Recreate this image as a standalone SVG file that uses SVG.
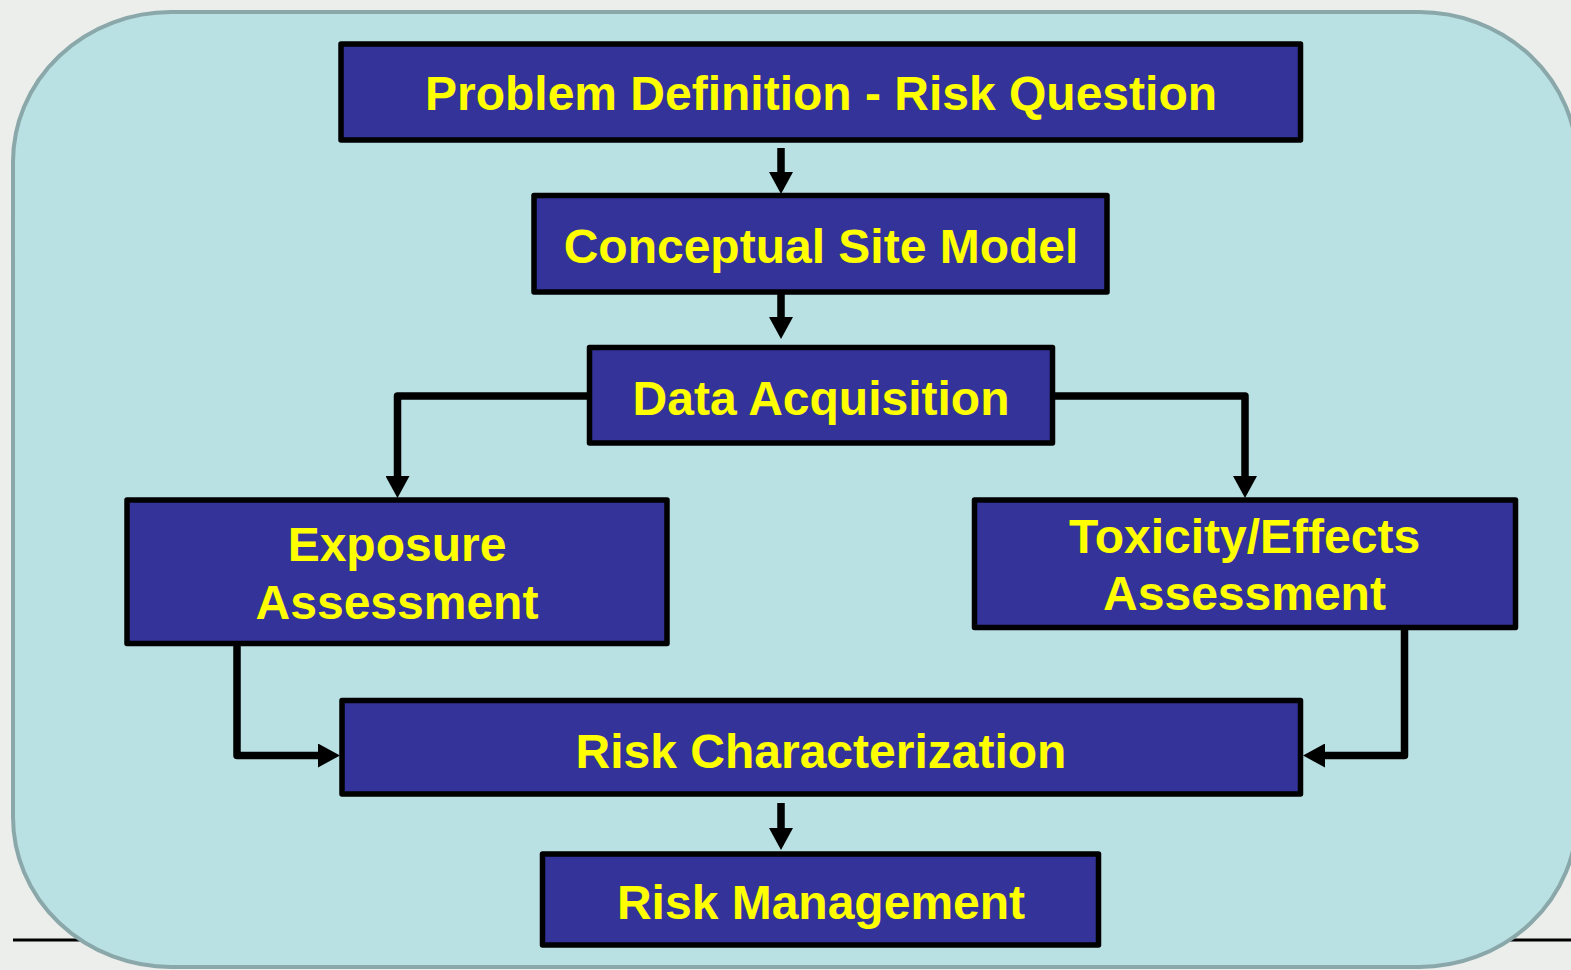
<svg xmlns="http://www.w3.org/2000/svg" width="1571" height="970" viewBox="0 0 1571 970">
  <defs>
    <!-- arrowhead: base sits at the path end, tip points forward -->
    <marker id="head" markerWidth="22" markerHeight="24" viewBox="0 0 22 24" refX="0" refY="12" orient="auto" markerUnits="userSpaceOnUse">
      <path d="M0,0 L22,12 L0,24 Z" fill="#000"/>
    </marker>
  </defs>
  <style>
    .box { fill: #333399; stroke: #000; stroke-width: 5.5; stroke-linejoin: round; }
    .lbl { fill: #ffff00; font-family: "Liberation Sans", Arial, sans-serif; font-weight: bold; font-size: 48px; text-anchor: middle; }
    .conn { fill: none; stroke: #000; stroke-width: 7.5; stroke-linejoin: round; marker-end: url(#head); }
  </style>

  <!-- page background and rule -->
  <rect x="0" y="0" width="1571" height="970" fill="#eceeec"/>
  <line x1="13" y1="940" x2="1571" y2="940" stroke="#000" stroke-width="3"/>

  <!-- panel -->
  <rect x="13" y="12" width="1564" height="955" rx="158" ry="150" fill="#b9e0e3" stroke="#8aa7a9" stroke-width="4"/>

  <!-- connectors -->
  <g id="connectors">
    <path class="conn" d="M781,148 V172"/>
    <path class="conn" d="M781,292 V317"/>
    <path class="conn" d="M589,396 H397.5 V476"/>
    <path class="conn" d="M1052,396 H1245 V476"/>
    <path class="conn" d="M237,643 V755.5 H318"/>
    <path class="conn" d="M1404.5,627 V755.5 H1325"/>
    <path class="conn" d="M781,803 V828"/>
  </g>

  <g id="problem-definition">
    <rect class="box" x="341" y="44" width="959.5" height="96"/>
    <text class="lbl" x="821" y="110">Problem Definition - Risk Question</text>
  </g>
  <g id="conceptual-site-model">
    <rect class="box" x="534" y="195.5" width="573" height="96.5"/>
    <text class="lbl" x="821" y="262.5">Conceptual Site Model</text>
  </g>
  <g id="data-acquisition">
    <rect class="box" x="589.5" y="347.5" width="463" height="95.5"/>
    <text class="lbl" x="821" y="414.5">Data Acquisition</text>
  </g>
  <g id="exposure-assessment">
    <rect class="box" x="127" y="500" width="540" height="143.5"/>
    <text class="lbl" x="397" y="561">Exposure</text>
    <text class="lbl" x="397" y="619">Assessment</text>
  </g>
  <g id="toxicity-effects-assessment">
    <rect class="box" x="974.5" y="500" width="541" height="127.5"/>
    <text class="lbl" x="1244.5" y="553">Toxicity/Effects</text>
    <text class="lbl" x="1244.5" y="610">Assessment</text>
  </g>
  <g id="risk-characterization">
    <rect class="box" x="342" y="700.5" width="958.5" height="93.5"/>
    <text class="lbl" x="821" y="767.5">Risk Characterization</text>
  </g>
  <g id="risk-management">
    <rect class="box" x="542.5" y="854" width="556" height="91"/>
    <text class="lbl" x="821" y="919">Risk Management</text>
  </g>
</svg>
